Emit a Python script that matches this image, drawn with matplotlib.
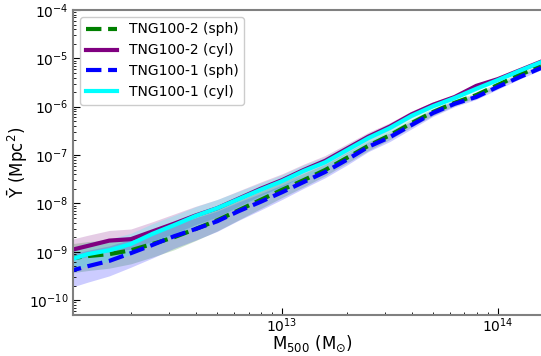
import numpy as np
import matplotlib
matplotlib.use("Agg")
import matplotlib.pyplot as plt

# log10 M500 bin centres
logM = [12.0, 12.1, 12.2, 12.3, 12.4, 12.5, 12.6, 12.7, 12.8, 12.9, 13.0, 13.1,
        13.2, 13.3, 13.4, 13.5, 13.6, 13.7, 13.8, 13.9, 14.0, 14.1, 14.2]

# log10 Ybar (Mpc^2)
tng2_sph = [-9.15, -9.09, -9.05, -8.97, -8.84, -8.70, -8.53, -8.35, -8.14, -7.93, -7.72, -7.52,
            -7.31, -7.06, -6.81, -6.59, -6.34, -6.11, -5.92, -5.76, -5.55, -5.34, -5.16]
tng2_cyl = [-8.99, -8.88, -8.77, -8.74, -8.58, -8.42, -8.25, -8.10, -7.90, -7.70, -7.52, -7.31,
            -7.12, -6.87, -6.62, -6.41, -6.16, -5.96, -5.80, -5.57, -5.43, -5.25, -5.07]
tng1_sph = [-9.42, -9.30, -9.19, -9.03, -8.86, -8.68, -8.53, -8.37, -8.16, -7.97, -7.77, -7.56,
            -7.35, -7.10, -6.83, -6.63, -6.38, -6.13, -5.94, -5.80, -5.59, -5.39, -5.20]
tng1_cyl = [-9.19, -9.05, -8.97, -8.84, -8.63, -8.45, -8.26, -8.10, -7.91, -7.72, -7.54, -7.33,
            -7.15, -6.90, -6.65, -6.44, -6.19, -5.99, -5.82, -5.63, -5.45, -5.26, -5.08]

# scatter (dex) for shaded bands
sig_tng2_sph = [0.30, 0.30, 0.29, 0.28, 0.27, 0.26, 0.24, 0.22, 0.20, 0.18, 0.16, 0.14,
                0.12, 0.11, 0.10, 0.09, 0.08, 0.07, 0.06, 0.05, 0.05, 0.04, 0.04]
sig_tng2_cyl = [0.22, 0.22, 0.21, 0.21, 0.20, 0.20, 0.19, 0.18, 0.16, 0.14, 0.13, 0.12,
                0.11, 0.10, 0.09, 0.08, 0.07, 0.06, 0.05, 0.05, 0.04, 0.04, 0.04]
sig_tng1_sph = [0.35, 0.33, 0.31, 0.29, 0.27, 0.25, 0.23, 0.21, 0.19, 0.17, 0.15, 0.13,
                0.12, 0.11, 0.10, 0.09, 0.08, 0.07, 0.06, 0.05, 0.05, 0.04, 0.04]
sig_tng1_cyl = [0.25, 0.24, 0.23, 0.22, 0.21, 0.20, 0.19, 0.18, 0.16, 0.14, 0.13, 0.12,
                0.11, 0.10, 0.09, 0.08, 0.07, 0.06, 0.05, 0.05, 0.04, 0.04, 0.04]

labels = ["TNG100-2 (sph)", "TNG100-2 (cyl)", "TNG100-1 (sph)", "TNG100-1 (cyl)"]
colors = ["green", "purple", "blue", "cyan"]
styles = ["--", "-", "--", "-"]
series = [tng2_sph, tng2_cyl, tng1_sph, tng1_cyl]
sigmas = [sig_tng2_sph, sig_tng2_cyl, sig_tng1_sph, sig_tng1_cyl]

fig = plt.figure(figsize=(5.41, 3.56), dpi=100)
ax = fig.add_axes([0.135, 0.115, 0.885, 0.857])

M = 10 ** np.array(logM)
for y, s, c in zip(series, sigmas, colors):
    y = np.array(y); s = np.array(s)
    ax.fill_between(M, 10 ** (y - s), 10 ** (y + s), color=c, alpha=0.2, lw=0)
for y, c, ls, lab in zip(series, colors, styles, labels):
    ax.plot(M, 10 ** np.array(y), color=c, ls=ls, lw=3, label=lab)

ax.set_xscale("log")
ax.set_yscale("log")
ax.set_xlim(10 ** 12.032, 10 ** 14.25)
ax.set_ylim(10 ** -10.31, 1e-4)
ax.set_xticks([1e13, 1e14])
ax.set_yticks([1e-10, 1e-9, 1e-8, 1e-7, 1e-6, 1e-5, 1e-4])

for sp in ax.spines.values():
    sp.set_color("gray")
    sp.set_linewidth(1.5)
ax.tick_params(which="both", direction="in", labelsize=10)
ax.tick_params(which="major", length=5)
ax.tick_params(which="minor", length=2.5)
ax.tick_params(axis="x", which="major", pad=1)

ax.set_xlabel("M$_{500}$ (M$_{\\odot}$)", fontsize=12, labelpad=-1)
ax.set_ylabel("\u0232 (Mpc$^2$)", fontsize=12, labelpad=0)

ax.legend(loc="upper left", fontsize=10, handlelength=2.3, framealpha=1,
          borderaxespad=0.5)

fig.savefig("out.png", dpi=100)
